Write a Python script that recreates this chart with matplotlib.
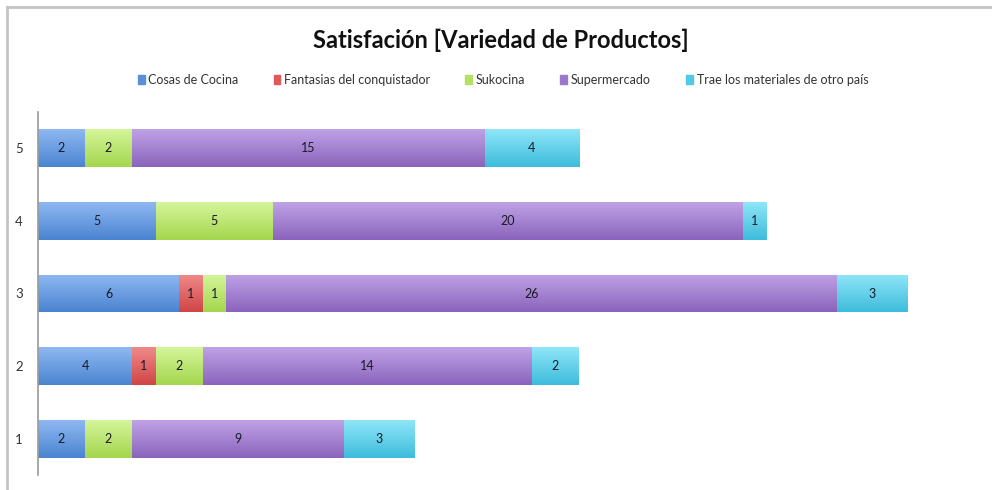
import numpy as np
import matplotlib.pyplot as plt
from matplotlib.colors import to_rgb
from matplotlib.patches import Rectangle
from matplotlib.lines import Line2D

plt.rcParams['font.family'] = ['Lato', 'DejaVu Sans']

categorias = ['1', '2', '3', '4', '5']
series = ['Cosas de Cocina', 'Fantasias del conquistador', 'Sukocina',
          'Supermercado', 'Trae los materiales de otro país']
cosas = [2, 4, 6, 5, 2]
fantasias = [0, 1, 1, 0, 0]
sukocina = [2, 2, 1, 5, 2]
super_ = [9, 14, 26, 20, 15]
trae = [3, 2, 3, 1, 4]
valores = [cosas, fantasias, sukocina, super_, trae]

# colores (claro arriba, oscuro abajo) al estilo Excel Mac
top_col = ['#8fb8f2', '#f08a8a', '#d4f59a', '#bfa2e6', '#8fe6f8']
bot_col = ['#4a84d0', '#d04545', '#a4d64e', '#8a64bc', '#3ebcdc']
leg_col = ['#5b8fd9', '#e05a5a', '#b4e066', '#9a78cc', '#52c8e6']

fig = plt.figure(figsize=(9.92, 4.9), dpi=100)
ax = fig.add_axes([38/992, 1 - 475/490, 940/992, (475 - 112)/490])

# marco del grafico (cortado a la derecha y abajo)
fy = 1 - 7/490
fx = 7/992
fig.lines.append(Line2D([fx, 1.0], [fy, fy], transform=fig.transFigure,
                        color='#c4c4c4', linewidth=2))
fig.lines.append(Line2D([fx, fx], [fy, 0.0], transform=fig.transFigure,
                        color='#c4c4c4', linewidth=2))

y = np.arange(1, len(categorias) + 1)
h = 0.52
left = np.zeros(len(categorias))
for i, vals in enumerate(valores):
    vals = np.array(vals)
    c1 = np.array(to_rgb(top_col[i]))
    c2 = np.array(to_rgb(bot_col[i]))
    grad = np.linspace(0, 1, 64)[:, None, None] * (c2 - c1) + c1
    bars = ax.barh(y, vals, left=left, height=h, color=leg_col[i],
                   label=series[i], linewidth=0)
    for b, v in zip(bars, vals):
        if v == 0:
            continue
        x0, y0 = b.get_x(), b.get_y()
        im = ax.imshow(grad, extent=[x0, x0 + b.get_width(), y0, y0 + h],
                       aspect='auto', origin='upper', zorder=2)
        im.set_clip_path(b)
        ax.text(x0 + b.get_width() / 2, y0 + h / 2, str(v), ha='center',
                va='center', fontsize=9, color='#1a1a2a', zorder=3)
    left += vals

ax.set_xlim(0, 40)
ax.set_ylim(0.5, 5.5)
ax.set_yticks(y)
ax.set_yticklabels(categorias, fontsize=9.5, color='#333333')
ax.set_xticks([])
ax.tick_params(axis='y', length=0, pad=11)
for s in ['top', 'right', 'bottom']:
    ax.spines[s].set_visible(False)
ax.spines['left'].set_color('#9a9a9a')
ax.spines['left'].set_linewidth(1.2)

fig.text(0.505, 1 - 40/490, 'Satisfación [Variedad de Productos]', ha='center',
         va='center', fontsize=17, fontweight='bold', color='#111111')

handles = [Rectangle((0, 0), 1, 1, color=c) for c in leg_col]
fig.legend(handles, series, loc='center', bbox_to_anchor=(0.507, 1 - 80/490),
           ncol=5, frameon=False, fontsize=9, handlelength=0.55,
           handleheight=0.7, handletextpad=0.3, columnspacing=2.8,
           labelcolor='#333333')

fig.savefig('out.png', dpi=100)
